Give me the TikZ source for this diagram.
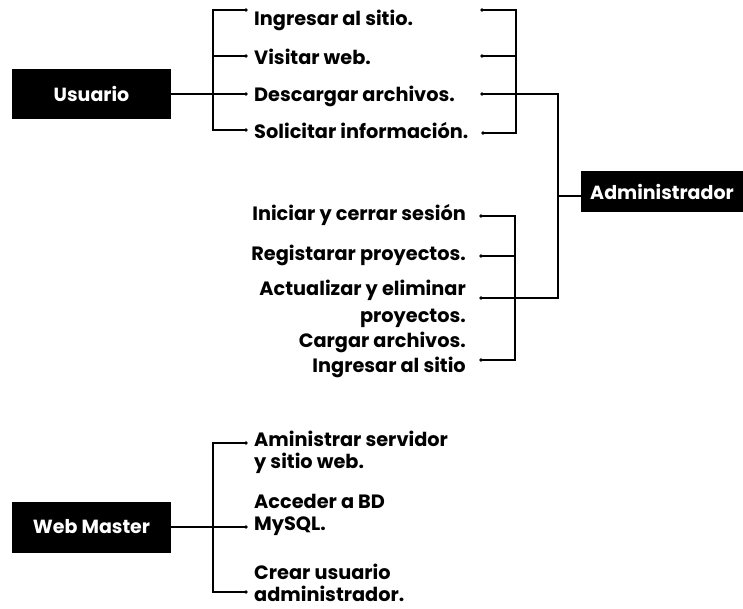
\documentclass[tikz,border=0pt]{standalone}
\usepackage{fontspec}
\setmainfont{Poppins}
\begin{document}
\begin{tikzpicture}[x=1pt,y=-1pt,
 line/.style={line width=1.4pt,black},
 dot/.style={circle,fill=black,inner sep=0pt,minimum size=3.6pt},
 box/.style={fill=black,text=white,font=\fontsize{19}{22}\selectfont\bfseries,inner sep=0pt},
 lbl/.style={font=\fontsize{19.3}{22}\selectfont\bfseries,inner sep=0pt},
 lblr/.style={lbl,align=right,anchor=east},
 lbll/.style={lbl,align=left,anchor=west}]
\useasboundingbox (0,0) rectangle (743,608);
% boxes
\node[box,minimum width=159pt,minimum height=50pt] (usr) at (91.5,94) {Usuario};
\node[box,minimum width=162pt,minimum height=41pt] (adm) at (662,191.5) {Administrador};
\node[box,minimum width=159pt,minimum height=51pt] (wm) at (91.5,527) {Web Master};
% Usuario branch
\coordinate (ju) at (213,94);
\node[dot] (d1) at (246,10) {};
\node[dot] (d2) at (246,56) {};
\node[dot] (d3) at (246,94) {};
\node[dot] (d4) at (246,130) {};
\draw[line] (d1.center) -| (ju);
\draw[line] (d4.center) -| (ju);
\draw[line] (d2.center) -- (d2 -| ju);
\draw[line] (usr.east) -- (d3.center);
\node[lbll] (t1) at (254,20) {Ingresar al sitio.};
\node[lbll] (t2) at (254,57) {Visitar web.};
\node[lbll] (t3) at (254,96) {Descargar archivos.};
\node[lbll] (t4) at (254,131) {Solicitar información.};
% top right bracket
\coordinate (jr) at (516,94);
\node[dot] (r1) at (482,10) {};
\node[dot] (r2) at (482,56) {};
\node[dot] (r3) at (482,94) {};
\node[dot] (r4) at (483,133) {};
\draw[line] (r1.center) -| (jr);
\draw[line] (r4.center) -| (jr);
\draw[line] (r2.center) -- (r2 -| jr);
\coordinate (ja) at (558,196);
\draw[line] (r3.center) -| (ja);
\draw[line] (ja) -- (ja -| adm.west);
% lower bracket
\coordinate (jl) at (515,298);
\node[dot] (l1) at (481,216) {};
\node[dot] (l2) at (481,256) {};
\node[dot] (l3) at (481,298) {};
\node[dot] (l4) at (481,360) {};
\draw[line] (l1.center) -| (jl);
\draw[line] (l4.center) -| (jl);
\draw[line] (l2.center) -- (l2 -| jl);
\draw[line] (l3.center) -| (ja);
\node[lblr] (s1) at (466,215) {Iniciar y cerrar sesión};
\node[lblr] (s2) at (466,255) {Registarar proyectos.};
\node[lblr,font=\fontsize{19.3}{27}\selectfont\bfseries] (s3) at (466,304) {Actualizar y eliminar\ \\proyectos.};
\node[lblr,font=\fontsize{19.3}{25}\selectfont\bfseries] (s4) at (466,355) {Cargar archivos.\\Ingresar al sitio};
% Web Master branch
\coordinate (jw) at (213,527);
\node[dot] (w1) at (246,443) {};
\node[dot] (w2) at (246,527) {};
\node[dot] (w3) at (246,592) {};
\draw[line] (w1.center) -| (jw);
\draw[line] (w3.center) -| (jw);
\draw[line] (wm.east) -- (w2.center);
\node[lbll] (m1) at (254,452) {Aministrar servidor\\y sitio web.};
\node[lbll] (m2) at (254,515) {Acceder a BD\\MySQL.};
\node[lbll] (m3) at (254,583) {Crear usuario\\administrador.};
\end{tikzpicture}
\end{document}
